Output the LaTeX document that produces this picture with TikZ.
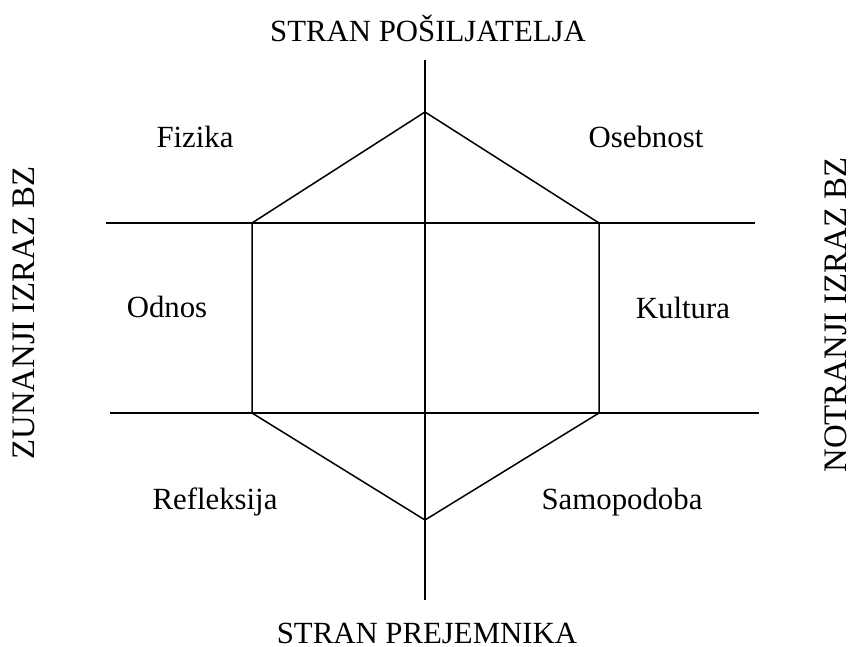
\documentclass[tikz,border=0pt]{standalone}
\usepackage{fontspec}
\setmainfont{Liberation Serif}
\begin{document}
\begin{tikzpicture}[x=0.5pt,y=-0.5pt,
  lbl/.style={inner sep=0pt,font=\fontsize{15.4}{18}\selectfont},
  side/.style={inner sep=0pt,rotate=90,font=\fontsize{16.4}{19}\selectfont},
  ln/.style={line width=0.75pt,black}]
\useasboundingbox (0,0) rectangle (853,647);
% axes
\coordinate (vt) at (425,60);
\coordinate (vb) at (425,600);
\coordinate (hl1) at (106,223);
\coordinate (hr1) at (755,223);
\coordinate (hl2) at (110,413);
\coordinate (hr2) at (759,413);
% hexagon
\coordinate (top) at (425,112);
\coordinate (ul) at (252,223);
\coordinate (ur) at (599,223);
\coordinate (ll) at (252,413);
\coordinate (lr) at (599,413);
\coordinate (bot) at (425,520);
\draw[ln] (vt) -- (vb);
\draw[ln] (hl1) -- (hr1);
\draw[ln] (hl2) -- (hr2);
\draw[ln] (ul) -- (top) -- (ur) -- (lr) -- (bot) -- (ll) -- cycle;
% labels
\node[lbl] (sp) at (428,28) {STRAN POŠILJATELJA};
\node[lbl] (sr) at (427,633) {STRAN PREJEMNIKA};
\node[lbl] (fiz) at (195,137) {Fizika};
\node[lbl] (ose) at (646,137) {Osebnost};
\node[lbl] (odn) at (167,307) {Odnos};
\node[lbl] (kul) at (683,308) {Kultura};
\node[lbl] (ref) at (215,502) {Refleksija};
\node[lbl] (sam) at (622,502) {Samopodoba};
\node[side] (zun) at (24,313) {ZUNANJI IZRAZ BZ};
\node[side] (not) at (836,315) {NOTRANJI IZRAZ BZ};
\end{tikzpicture}
\end{document}
